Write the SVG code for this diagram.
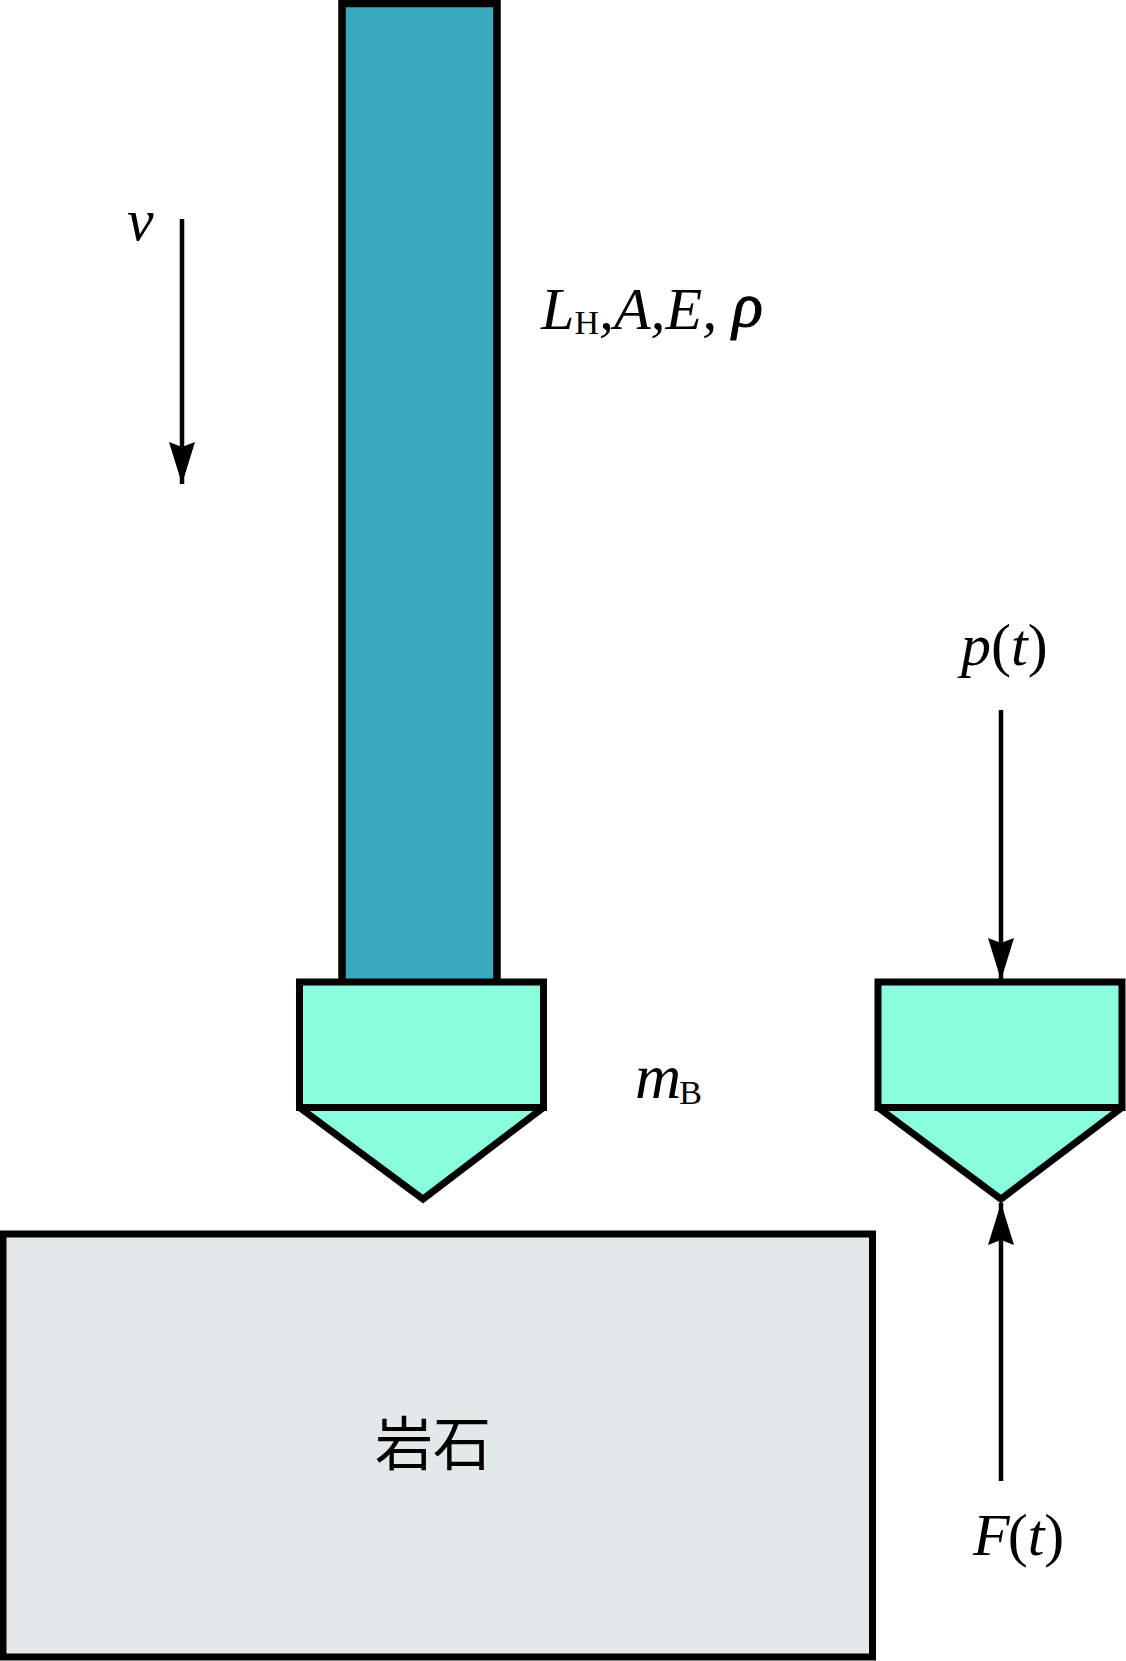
<svg xmlns="http://www.w3.org/2000/svg" width="1126" height="1661" viewBox="0 0 1126 1661">
<style>
.s{stroke:#000;stroke-width:7;stroke-linejoin:miter;stroke-miterlimit:2}
.head{fill:#8affdd}
.w{stroke:#000;stroke-width:4.500;fill:none}
.t{font-family:"Liberation Serif","Times New Roman",serif;fill:#000}
.i{font-style:italic;font-size:60px}
.p{font-size:60px}
.sub{font-size:34px}
</style>
<defs>
<marker id="ah" markerUnits="userSpaceOnUse" markerWidth="42" markerHeight="26" refX="42" refY="13" viewBox="0 0 42 26" orient="auto"><path d="M0 0L42 13L0 26L5 13Z" fill="#000"/></marker>
</defs>
<rect width="1126" height="1661" fill="#fff"/>
<g id="shaft"><rect class="s" x="342" y="3.500" width="155" height="980" fill="#3aa9bb" style="stroke-width:7.500"/></g>
<g id="bit-left">
<path class="s head" d="M299.500 982H543.500V1107.500H299.500Z"/>
<path class="s head" d="M299.500 1107.500H543.500L423 1199Z"/>
</g>
<g id="bit-right">
<path class="s head" d="M878 982H1122V1107.500H878Z"/>
<path class="s head" d="M878 1107.500H1122L1001 1199Z"/>
</g>
<g id="rock">
<rect class="s" x="3" y="1234" width="869.500" height="423" fill="#e3e8e8"/>
<text class="t" x="375" y="1465" font-size="58" style="font-family:'Noto Sans CJK SC','Liberation Serif',serif">岩石</text>
</g>
<g id="connectors">
<line class="w" x1="182" y1="219" x2="182" y2="484" marker-end="url(#ah)"/>
<line class="w" x1="1001" y1="710" x2="1001" y2="980" marker-end="url(#ah)"/>
<line class="w" x1="1001" y1="1481" x2="1001" y2="1203" marker-end="url(#ah)"/>
</g>
<g id="labels">
<text class="t i" x="127" y="240">v</text>
<text class="t" x="541" y="329"><tspan class="i">L</tspan><tspan class="sub" dy="5">H</tspan><tspan class="i" dy="-5">,A,E, </tspan><tspan class="i" dy="-3" style="font-size:64px;stroke:#000;stroke-width:1">ρ</tspan></text>
<text class="t" x="635" y="1098"><tspan class="i" style="font-size:64px">m</tspan><tspan class="sub" dy="6" dx="-2">B</tspan></text>
<text class="t" x="961" y="665"><tspan class="i">p</tspan><tspan class="p">(</tspan><tspan class="i">t</tspan><tspan class="p">)</tspan></text>
<text class="t" x="973" y="1555"><tspan class="i">F</tspan><tspan class="p" dx="-2">(</tspan><tspan class="i">t</tspan><tspan class="p">)</tspan></text>
</g>
</svg>
